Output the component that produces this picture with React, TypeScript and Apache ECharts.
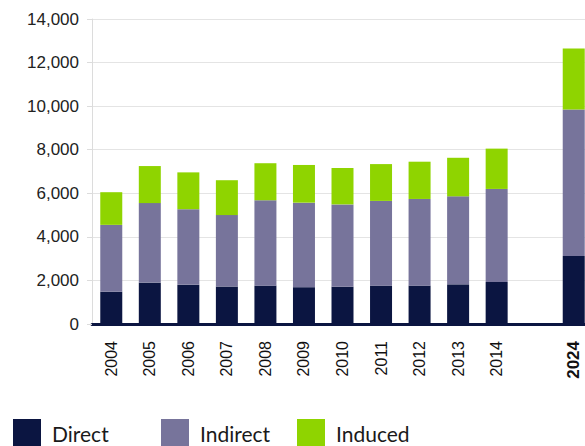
import React, { useEffect, useRef } from "react";
import * as echarts from "echarts";

const categories = ["2004", "2005", "2006", "2007", "2008", "2009", "2010", "2011", "2012", "2013", "2014", "", "2024"];
const direct = [1480, 1900, 1800, 1720, 1760, 1690, 1710, 1760, 1760, 1820, 1930, null, 3120];
const indirect = [3070, 3650, 3470, 3280, 3920, 3880, 3780, 3890, 3980, 4040, 4270, null, 6730];
const induced = [1500, 1700, 1690, 1600, 1700, 1730, 1670, 1690, 1710, 1770, 1850, null, 2800];
const yTicks = { min: 0, max: 14000, interval: 2000 };
const seriesNames = ["Direct", "Indirect", "Induced"];
const colors = ["#0b1541", "#77749b", "#8fd400"];

const SANS = "Arial, 'Liberation Sans', sans-serif";

export default function App() {
  const ref = useRef<HTMLDivElement>(null);
  useEffect(() => {
    if (!ref.current) return;
    const chart = echarts.init(ref.current, null, { renderer: "svg" });
    const legendLefts = [13, 161, 297];
    chart.setOption({
      animation: false,
      color: colors,
      grid: { left: 92, width: 501, top: 19, height: 305 },
      legend: seriesNames.map((n, i) => ({
        data: [n],
        left: legendLefts[i],
        top: 419,
        itemWidth: 28,
        itemHeight: 28,
        itemGap: 0,
        icon: "rect",
        selectedMode: false,
        textStyle: { fontFamily: "Lato", fontSize: 21, color: "#1a1a1a", padding: [0, 0, 0, 6] },
        padding: 0,
      })),
      xAxis: {
        type: "category",
        data: categories,
        axisTick: { show: false },
        axisLine: { show: true, lineStyle: { color: "#0b1541", width: 3 } },
        axisLabel: {
          rotate: 90,
          margin: 17,
          interval: 0,
          fontFamily: SANS,
          fontSize: 16,
          color: "#111",
          formatter: (v: string) => (v === "2024" ? "{b|" + v + "}" : v),
          rich: { b: { fontWeight: "bold", fontSize: 17, fontFamily: SANS, color: "#111" } },
        },
      },
      yAxis: {
        type: "value",
        min: yTicks.min,
        max: yTicks.max,
        interval: yTicks.interval,
        axisLine: { show: true, lineStyle: { color: "#dcdcdc" } },
        axisTick: { show: true, length: 5, lineStyle: { color: "#dcdcdc" } },
        splitLine: { lineStyle: { color: "#e4e4e4" } },
        axisLabel: {
          margin: 13,
          fontFamily: SANS,
          fontSize: 17,
          color: "#222",
          formatter: (v: number) => v.toLocaleString("en-US"),
        },
      },
      series: [direct, indirect, induced].map((d, i) => ({
        name: seriesNames[i],
        type: "bar",
        stack: "total",
        barWidth: 22,
        data: d,
        itemStyle: { color: colors[i] },
      })),
    });
    return () => chart.dispose();
  }, []);
  return (
    <div style={{ position: "fixed", left: 0, top: 0, width: 585, height: 446, overflow: "hidden", background: "#fff" }}>
      <div ref={ref} style={{ width: 610, height: 446 }} />
    </div>
  );
}
